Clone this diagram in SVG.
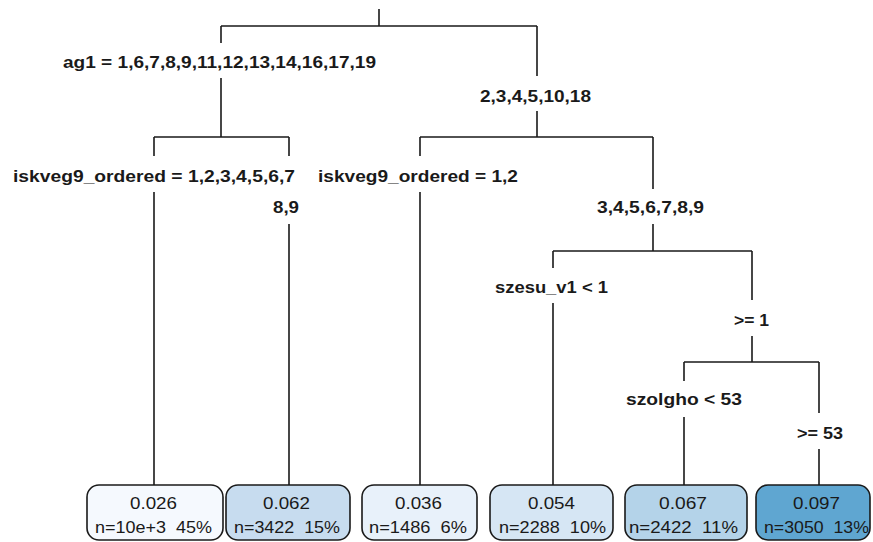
<svg xmlns="http://www.w3.org/2000/svg" width="873" height="542" viewBox="0 0 873 542">
<style>
.e{fill:none;stroke:#1a1a1a;stroke-width:1.6}
.lb{font-family:"Liberation Sans",Arial,sans-serif;font-weight:bold;font-size:16.5px;fill:#1a1a1a;text-anchor:middle}
.lt{font-family:"Liberation Sans",Arial,sans-serif;font-size:16.5px;fill:#1a1a1a;text-anchor:middle}
.bx{stroke:#1a1a1a;stroke-width:1.6}
</style>
<rect width="873" height="542" fill="#ffffff"/>
<g id="connectors">
<path class="e" d="M379 9V26M221 26H537M221 26V43M221 78V137M154 137H289M154 137V156M289 137V156M154 192V485M289 224V485"/>
<path class="e" d="M537 26V76M537 111V137M420 137H653M420 137V156M420 192V485M653 137V189M653 224V251M553 251H752M553 251V268M553 303V485M752 251V300M752 336V362M684 362H819M684 362V381M684 417V485M819 362V413M819 449V485"/>
</g>
<g id="split-root"><text class="lb" x="219.5" y="68" textLength="313" lengthAdjust="spacingAndGlyphs">ag1 = 1,6,7,8,9,11,12,13,14,16,17,19</text></g>
<g id="split-root-right"><text class="lb" x="535.5" y="102" textLength="111" lengthAdjust="spacingAndGlyphs">2,3,4,5,10,18</text></g>
<g id="split-iskveg-left"><text class="lb" x="154" y="182" textLength="282" lengthAdjust="spacingAndGlyphs">iskveg9_ordered = 1,2,3,4,5,6,7</text></g>
<g id="split-iskveg-left-right"><text class="lb" x="286" y="213" textLength="26" lengthAdjust="spacingAndGlyphs">8,9</text></g>
<g id="split-iskveg-right"><text class="lb" x="418" y="182" textLength="200" lengthAdjust="spacingAndGlyphs">iskveg9_ordered = 1,2</text></g>
<g id="split-iskveg-right-right"><text class="lb" x="650.5" y="213" textLength="107" lengthAdjust="spacingAndGlyphs">3,4,5,6,7,8,9</text></g>
<g id="split-szesu"><text class="lb" x="551.5" y="293" textLength="113" lengthAdjust="spacingAndGlyphs">szesu_v1 &lt; 1</text></g>
<g id="split-szesu-right"><text class="lb" x="751.5" y="326" textLength="35" lengthAdjust="spacingAndGlyphs">&gt;= 1</text></g>
<g id="split-szolgho"><text class="lb" x="684" y="405" textLength="116" lengthAdjust="spacingAndGlyphs">szolgho &lt; 53</text></g>
<g id="split-szolgho-right"><text class="lb" x="820" y="439" textLength="46" lengthAdjust="spacingAndGlyphs">&gt;= 53</text></g>
<g id="leaf1"><rect class="bx" x="87" y="485" width="136" height="55" rx="12" fill="#f5f9fe"/><text class="lt" x="153.5" y="509" textLength="47" lengthAdjust="spacingAndGlyphs">0.026</text><text class="lt" x="153.5" y="533" textLength="117" lengthAdjust="spacingAndGlyphs" xml:space="preserve">n=10e+3  45%</text></g>
<g id="leaf2"><rect class="bx" x="226" y="485" width="124" height="55" rx="12" fill="#c7dcef"/><text class="lt" x="286.5" y="509" textLength="47" lengthAdjust="spacingAndGlyphs">0.062</text><text class="lt" x="287" y="533" textLength="106" lengthAdjust="spacingAndGlyphs" xml:space="preserve">n=3422  15%</text></g>
<g id="leaf3"><rect class="bx" x="362" y="485" width="115" height="55" rx="12" fill="#e8f1fa"/><text class="lt" x="418.5" y="509" textLength="47" lengthAdjust="spacingAndGlyphs">0.036</text><text class="lt" x="418" y="533" textLength="98" lengthAdjust="spacingAndGlyphs" xml:space="preserve">n=1486  6%</text></g>
<g id="leaf4"><rect class="bx" x="490" y="485" width="123" height="55" rx="12" fill="#d6e6f4"/><text class="lt" x="551.5" y="509" textLength="47" lengthAdjust="spacingAndGlyphs">0.054</text><text class="lt" x="552.5" y="533" textLength="107" lengthAdjust="spacingAndGlyphs" xml:space="preserve">n=2288  10%</text></g>
<g id="leaf5"><rect class="bx" x="625" y="485" width="122" height="55" rx="12" fill="#b4d3e9"/><text class="lt" x="683" y="509" textLength="48" lengthAdjust="spacingAndGlyphs">0.067</text><text class="lt" x="683.5" y="533" textLength="109" lengthAdjust="spacingAndGlyphs" xml:space="preserve">n=2422  11%</text></g>
<g id="leaf6"><rect class="bx" x="756" y="485" width="114" height="55" rx="12" fill="#5fa6d1"/><text class="lt" x="816.5" y="509" textLength="47" lengthAdjust="spacingAndGlyphs">0.097</text><text class="lt" x="816.5" y="533" textLength="105" lengthAdjust="spacingAndGlyphs" xml:space="preserve">n=3050  13%</text></g>
</svg>
